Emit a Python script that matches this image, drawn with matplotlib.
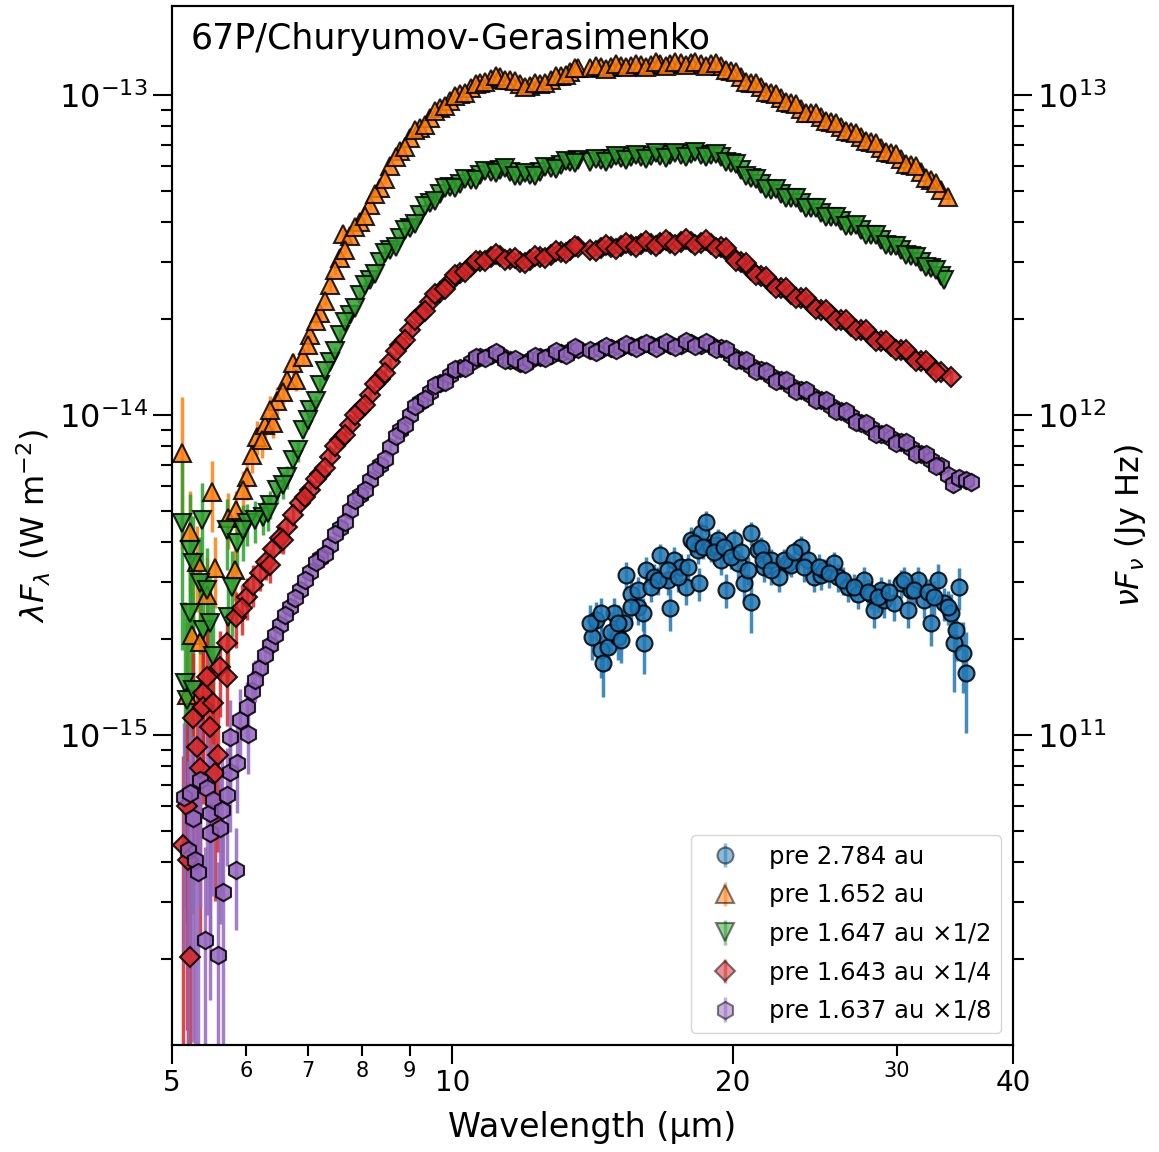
import numpy as np
import matplotlib.pyplot as plt
from matplotlib.lines import Line2D
from matplotlib.collections import LineCollection

# wavelengths in micron, fluxes in 1e-15 W m^-2 (unscaled), errors as fractions
wave_2784 = [14.14, 14.25, 14.43, 14.53, 14.68, 14.90, 15.08, 15.27, 15.35, 15.54,
             15.81, 16.01, 16.05, 16.13, 16.45, 16.73, 17.03, 17.15, 17.28, 17.58,
             17.80, 18.02, 18.34, 18.39, 18.48, 18.71, 18.94, 19.17, 19.27, 19.41,
             19.66, 20.05, 20.25, 20.55, 20.91, 20.91, 21.28, 21.43, 21.60, 21.97,
             22.41, 22.92, 23.09, 23.67, 24.08, 24.44, 24.87, 25.06, 25.68, 25.94,
             26.59, 27.26, 27.66, 28.14, 28.35, 28.85, 29.06, 29.79, 30.31, 30.84,
             31.07, 31.62, 32.09, 32.65, 33.22, 33.72, 34.31, 34.57, 34.74, 35.00,
             35.34, 35.61,
             14.07, 14.43, 14.79, 15.05, 15.16, 15.54, 15.81, 16.33, 16.61, 17.03,
             17.45, 17.89, 18.16, 18.57, 19.08, 19.56, 19.90, 20.40, 20.76, 21.54,
             21.97, 22.69, 23.26, 23.84, 24.74, 25.36, 26.26, 26.98, 27.94, 28.64,
             29.43, 30.54, 31.31, 32.41, 32.90, 34.06]
flux_2784 = [2.02, 2.29, 1.84, 1.68, 1.88, 2.40, 2.02, 2.24, 3.16, 2.76,
             2.51, 2.40, 1.94, 3.28, 3.11, 3.65, 3.05, 2.49, 3.52, 3.35,
             2.90, 4.07, 3.79, 2.98, 4.28, 4.63, 3.87, 3.92, 4.07, 3.52,
             2.84, 4.07, 3.45, 2.98, 2.60, 4.28, 3.79, 3.85, 3.35, 3.52,
             3.11, 3.45, 3.40, 3.87, 3.52, 3.11, 3.16, 3.28, 3.45, 3.11,
             2.90, 2.76, 3.05, 2.76, 2.46, 2.84, 2.64, 2.58, 2.98, 2.46,
             2.84, 3.05, 2.64, 2.24, 3.05, 2.58, 2.40, 1.94, 2.13, 2.90,
             1.80, 1.56,
             2.24, 2.40, 2.10, 2.24, 1.98, 2.51, 2.84, 2.90, 3.05, 3.28,
             3.11, 3.35, 3.98, 3.87, 3.72, 3.87, 3.60, 3.72, 3.28, 3.52,
             3.28, 3.52, 3.72, 3.35, 3.35, 3.21, 3.05, 2.90, 2.79, 2.70,
             2.79, 3.05, 2.84, 2.79, 2.70, 2.51]
err_2784 = [0.15, 0.14, 0.18, 0.22, 0.15, 0.12, 0.15, 0.14, 0.10, 0.12,
            0.12, 0.12, 0.20, 0.10, 0.10, 0.08, 0.10, 0.15, 0.10, 0.10,
            0.12, 0.10, 0.10, 0.12, 0.08, 0.08, 0.10, 0.10, 0.08, 0.10,
            0.12, 0.08, 0.10, 0.12, 0.20, 0.08, 0.08, 0.08, 0.10, 0.08,
            0.10, 0.08, 0.08, 0.08, 0.08, 0.10, 0.10, 0.08, 0.08, 0.10,
            0.10, 0.10, 0.10, 0.10, 0.12, 0.10, 0.12, 0.12, 0.10, 0.12,
            0.10, 0.10, 0.12, 0.15, 0.12, 0.12, 0.15, 0.30, 0.20, 0.15,
            0.25, 0.35,
            0.14, 0.12, 0.15, 0.14, 0.15, 0.12, 0.10, 0.10, 0.10, 0.10,
            0.10, 0.10, 0.08, 0.08, 0.08, 0.08, 0.08, 0.08, 0.10, 0.08,
            0.10, 0.08, 0.08, 0.10, 0.10, 0.10, 0.10, 0.10, 0.10, 0.10,
            0.10, 0.10, 0.10, 0.10, 0.12, 0.12]

wave_1652 = [5.13, 5.19, 5.23, 5.25, 5.32, 5.36, 5.45, 5.52, 5.56, 5.74,
             5.84, 5.86, 6.02, 6.09, 6.17, 6.29, 6.42, 6.48, 6.65, 6.75,
             6.80, 6.92,
             7.04, 7.21, 7.39, 7.58, 7.63, 7.77, 7.96, 8.16, 8.37, 8.58,
             8.79, 9.01, 9.24, 9.47, 9.71, 9.95, 10.20, 10.46, 10.72, 10.99,
             11.26, 11.54, 11.83, 12.13, 12.43, 12.75, 13.07, 13.39, 13.66,
             14.07, 14.43, 14.79, 15.16, 15.54, 15.93, 16.33, 16.73, 17.15, 17.58,
             18.02, 18.48, 18.94, 19.41, 19.90, 20.40, 20.91, 21.43, 21.97, 22.52,
             23.09, 23.67, 24.26, 24.87, 25.49, 26.13, 26.78, 27.45, 28.14, 28.85,
             29.57, 30.31, 31.07, 31.85, 32.65, 33.47, 34.06,
             5.96, 6.25, 6.37, 6.58, 6.99]
flux_1652 = [7.61, 1.33, 4.30, 2.05, 3.47, 1.95, 2.74, 5.74, 3.33, 4.77,
             3.28, 5.05, 6.39, 7.50, 8.54, 9.31, 9.44, 11.1, 12.9, 14.5,
             12.9, 15.2,
             17.8, 20.8, 25.5, 30.9, 36.9, 36.2, 40.1, 45.3, 51.2, 60.0,
             66.8, 73.4, 78.9, 84.7, 91.1, 95.8, 100.7, 105.2, 109.0, 112.2,
             113.8, 111.4, 108.3, 106.7, 108.3, 111.4, 114.7, 118.0, 121.4,
             121.4, 122.3, 122.3, 123.2, 123.2, 124.1, 124.1, 125.0, 125.0, 125.9,
             125.9, 125.0, 125.0, 123.2, 118.9, 113.8, 109.0, 105.9, 101.4, 97.9,
             94.4, 90.4, 87.8, 85.3, 82.3, 79.5, 76.6, 73.9, 71.3, 68.3,
             65.9, 63.1, 60.4, 57.4, 54.2, 50.5, 48.0,
             5.83, 8.35, 10.4, 11.8, 16.5]
err_1652 = [0.50, 0.70, 0.35, 0.50, 0.30, 0.45, 0.30, 0.25, 0.25, 0.20,
            0.20, 0.15, 0.15, 0.12, 0.12, 0.10, 0.10, 0.10, 0.08, 0.08,
            0.08, 0.06,
            0.05, 0.05, 0.04, 0.04, 0.04, 0.04, 0.03, 0.03, 0.03, 0.03,
            0.03, 0.03, 0.03, 0.03, 0.03, 0.03, 0.03, 0.03, 0.03, 0.03,
            0.03, 0.03, 0.03, 0.03, 0.03, 0.03, 0.03, 0.03, 0.04,
            0.04, 0.03, 0.03, 0.03, 0.03, 0.03, 0.03, 0.03, 0.03, 0.03,
            0.03, 0.03, 0.03, 0.03, 0.03, 0.03, 0.03, 0.03, 0.03, 0.03,
            0.03, 0.03, 0.03, 0.03, 0.03, 0.03, 0.03, 0.03, 0.03, 0.03,
            0.03, 0.03, 0.03, 0.03, 0.04, 0.04, 0.05,
            0.15, 0.12, 0.10, 0.08, 0.06]

wave_1647 = [5.13, 5.16, 5.19, 5.23, 5.23, 5.27, 5.27, 5.36, 5.39, 5.40,
             5.45, 5.49, 5.53, 5.73, 5.74, 5.80, 5.87, 6.02, 6.26, 6.37,
             6.48, 6.65, 6.75, 6.92,
             7.04, 7.21, 7.39, 7.58, 7.77, 7.96, 8.16, 8.37, 8.58, 8.79,
             9.01, 9.24, 9.47, 9.71, 9.95, 10.20, 10.46, 10.72, 10.99, 11.26,
             11.54, 11.83, 12.13, 12.43, 12.75, 13.07, 13.39, 13.66,
             14.07, 14.43, 14.79, 15.16, 15.54, 15.93, 16.33, 16.73, 17.15, 17.58,
             18.02, 18.48, 18.94, 19.41, 19.90, 20.40, 20.91, 21.43, 21.97, 22.52,
             23.09, 23.67, 24.26, 24.87, 25.49, 26.13, 26.78, 27.45, 28.14, 28.85,
             29.57, 30.31, 31.07, 31.85, 32.65, 33.47, 33.72,
             5.96, 6.14, 6.34, 6.58, 6.83, 6.99]
flux_1647 = [9.20, 2.90, 2.58, 7.58, 4.82, 6.90, 2.76, 5.96, 9.40, 4.26,
             5.68, 4.48, 3.52, 8.74, 4.68, 5.80, 7.96, 9.20, 9.60, 10.5,
             11.7, 12.8, 14.5, 18.0,
             20.7, 24.8, 29.2, 35.6, 41.0, 47.4, 52.8, 60.2, 65.6, 71.4,
             76.8, 84.4, 92.0, 98.2, 103.2, 105.4, 108.4, 112.4, 115.0, 116.6,
             115.0, 111.6, 112.4, 115.0, 118.2, 120.8, 123.4, 125.2,
             123.4, 125.2, 126.2, 127.2, 128.0, 128.0, 129.0, 129.0, 129.8, 129.8,
             130.8, 129.8, 129.8, 128.0, 122.6, 116.6, 110.0, 105.4, 101.0, 98.2,
             95.4, 92.0, 88.6, 85.6, 83.2, 80.8, 78.0, 75.8, 73.0, 70.4,
             67.6, 65.6, 62.8, 60.2, 57.6, 54.4, 52.8,
             8.74, 9.40, 9.88, 12.1, 15.5, 19.3]
err_1647 = [0.60, 0.80, 0.80, 0.50, 0.60, 0.40, 0.80, 0.40, 0.30, 0.50,
            0.35, 0.40, 0.50, 0.25, 0.35, 0.30, 0.20, 0.15, 0.12, 0.10,
            0.10, 0.08, 0.08, 0.06,
            0.05, 0.05, 0.04, 0.04, 0.04, 0.03, 0.03, 0.03, 0.03, 0.03,
            0.03, 0.03, 0.03, 0.03, 0.03, 0.03, 0.03, 0.03, 0.03, 0.03,
            0.03, 0.03, 0.03, 0.03, 0.03, 0.03, 0.03, 0.04,
            0.04, 0.03, 0.03, 0.03, 0.03, 0.03, 0.03, 0.03, 0.03, 0.03,
            0.03, 0.03, 0.03, 0.03, 0.03, 0.03, 0.03, 0.03, 0.03, 0.03,
            0.03, 0.03, 0.03, 0.03, 0.03, 0.03, 0.03, 0.03, 0.03, 0.03,
            0.03, 0.03, 0.03, 0.03, 0.04, 0.04, 0.05,
            0.20, 0.15, 0.12, 0.10, 0.08, 0.06]

wave_1643 = [5.14, 5.19, 5.20, 5.23, 5.27, 5.32, 5.36, 5.40, 5.40, 5.45,
             5.49, 5.53, 5.56, 5.60, 5.63, 5.73, 5.73, 5.86, 6.02, 6.22,
             6.42, 6.65, 6.86,
             7.04, 7.21, 7.39, 7.58, 7.77, 7.96, 8.16, 8.37, 8.58, 8.79,
             9.01, 9.24, 9.47, 9.71, 9.95, 10.20, 10.46, 10.72, 10.99, 11.26,
             11.54, 11.83, 12.13, 12.43, 12.75, 13.07, 13.39, 13.66,
             14.07, 14.43, 14.79, 15.16, 15.54, 15.93, 16.33, 16.73, 17.15, 17.58,
             18.02, 18.48, 18.94, 19.41, 19.90, 20.40, 20.91, 21.43, 21.97, 22.52,
             23.09, 23.67, 24.26, 24.87, 25.49, 26.13, 26.78, 27.45, 28.14, 28.85,
             29.57, 30.31, 31.07, 31.85, 32.65, 33.47, 34.31,
             5.95, 6.11, 6.31, 6.37, 6.53, 6.58, 6.75, 6.95]
flux_1643 = [1.81, 2.40, 1.63, 0.81, 4.52, 3.67, 3.16, 5.40, 4.88, 6.08,
             4.24, 5.04, 3.04, 3.46, 6.52, 7.76, 6.08, 9.36, 10.8, 12.8,
             15.2, 17.9, 21.2,
             23.3, 26.2, 29.6, 33.4, 37.2, 41.5, 46.2, 52.0, 58.4, 66.0,
             73.6, 82.0, 90.4, 97.2, 104.0, 111.2, 116.8, 121.2, 124.8, 125.6,
             122.8, 120.4, 122.0, 124.8, 126.4, 129.2, 131.2, 134.0,
             131.2, 133.2, 134.0, 135.2, 136.0, 137.2, 137.2, 138.0, 138.0, 139.2,
             139.2, 138.0, 137.2, 134.0, 126.4, 120.4, 113.6, 108.8, 103.6, 99.6,
             95.6, 92.8, 88.8, 85.2, 82.0, 79.2, 76.0, 73.6, 70.8, 68.0,
             65.6, 64.0, 61.2, 58.8, 56.8, 54.4, 52.4,
             10.0, 11.8, 13.9, 13.6, 16.5, 16.3, 19.5, 22.2]
err_1643 = [0.90, 0.80, 0.90, 0.95, 0.60, 0.60, 0.70, 0.50, 0.50, 0.40,
            0.50, 0.40, 0.60, 0.50, 0.30, 0.25, 0.30, 0.20, 0.15, 0.12,
            0.10, 0.08, 0.06,
            0.05, 0.05, 0.04, 0.04, 0.04, 0.03, 0.03, 0.03, 0.03, 0.03,
            0.03, 0.03, 0.03, 0.03, 0.03, 0.03, 0.03, 0.03, 0.03, 0.03,
            0.03, 0.03, 0.03, 0.03, 0.03, 0.03, 0.03, 0.04,
            0.04, 0.03, 0.03, 0.03, 0.03, 0.03, 0.03, 0.03, 0.03, 0.03,
            0.03, 0.03, 0.03, 0.03, 0.03, 0.03, 0.03, 0.03, 0.03, 0.03,
            0.03, 0.03, 0.03, 0.03, 0.03, 0.03, 0.03, 0.03, 0.03, 0.03,
            0.03, 0.03, 0.03, 0.03, 0.04, 0.04, 0.05,
            0.18, 0.15, 0.12, 0.12, 0.10, 0.10, 0.08, 0.06]

wave_1637 = [5.15, 5.20, 5.23, 5.27, 5.29, 5.33, 5.36, 5.43, 5.45, 5.49,
             5.49, 5.53, 5.60, 5.63, 5.66, 5.67, 5.73, 5.77, 5.77, 5.86,
             5.87, 5.92, 6.02, 6.03, 6.09,
             6.22, 6.37, 6.53, 6.70, 6.86,
             7.04, 7.21, 7.39, 7.58, 7.77, 7.96, 8.16, 8.37, 8.58, 8.79,
             9.01, 9.24, 9.47, 9.71, 9.95, 10.20, 10.46, 10.72, 10.99, 11.26,
             11.54, 11.83, 12.13, 12.43, 12.75, 13.07, 13.39, 13.66,
             14.07, 14.43, 14.79, 15.16, 15.54, 15.93, 16.33, 16.73, 17.15, 17.58,
             18.02, 18.48, 18.94, 19.41, 19.90, 20.40, 20.91, 21.43, 21.97, 22.52,
             23.09, 23.67, 24.26, 24.87, 25.49, 26.13, 26.78, 27.45, 28.14, 28.85,
             29.57, 30.31, 31.07, 31.85, 32.65, 33.47, 34.06, 34.48, 35.00, 35.61,
             36.05,
             6.14, 6.29, 6.45, 6.61, 6.78, 6.95]
flux_1637 = [5.12, 3.50, 5.26, 4.40, 3.26, 2.98, 5.78, 1.83, 5.46, 4.56,
             3.95, 5.01, 1.64, 4.10, 4.66, 2.58, 5.19, 7.89, 6.13, 3.03,
             6.54, 8.91, 9.76, 8.08, 11.0,
             13.0, 15.3, 17.7, 20.1, 22.7,
             25.8, 28.6, 31.4, 35.4, 40.4, 45.0, 50.1, 55.8, 63.4, 71.8,
             80.0, 88.0, 94.4, 100.8, 106.4, 112.0, 116.8, 121.6, 123.2, 123.2,
             118.8, 116.0, 118.8, 121.6, 123.2, 124.8, 126.4, 128.8,
             128.0, 128.8, 129.6, 130.4, 131.2, 132.0, 132.0, 132.8, 132.8, 132.8,
             134.4, 132.8, 132.0, 129.6, 123.2, 118.8, 113.6, 110.4, 105.6, 103.2,
             98.4, 95.8, 92.4, 89.1, 85.4, 82.4, 79.4, 75.6, 72.9, 69.8,
             67.8, 65.8, 63.0, 60.4, 57.8, 55.4, 51.9, 48.6, 50.8, 50.1,
             49.4,
             11.9, 14.2, 16.4, 19.0, 21.4, 24.4]
err_1637 = [0.70, 0.90, 0.70, 0.80, 0.90, 0.90, 0.60, 0.95, 0.60, 0.60,
            0.70, 0.50, 0.95, 0.50, 0.45, 0.70, 0.40, 0.30, 0.35, 0.35,
            0.30, 0.25, 0.20, 0.25, 0.15,
            0.12, 0.10, 0.08, 0.07, 0.06,
            0.05, 0.05, 0.04, 0.04, 0.04, 0.03, 0.03, 0.03, 0.03, 0.03,
            0.03, 0.03, 0.03, 0.03, 0.03, 0.03, 0.03, 0.03, 0.03, 0.03,
            0.03, 0.03, 0.03, 0.03, 0.03, 0.03, 0.03, 0.04,
            0.04, 0.03, 0.03, 0.03, 0.03, 0.03, 0.03, 0.03, 0.03, 0.03,
            0.03, 0.03, 0.03, 0.03, 0.03, 0.03, 0.03, 0.03, 0.03, 0.03,
            0.03, 0.03, 0.03, 0.03, 0.03, 0.03, 0.03, 0.03, 0.03, 0.03,
            0.03, 0.03, 0.03, 0.03, 0.04, 0.04, 0.05, 0.06, 0.06, 0.06,
            0.06,
            0.15, 0.12, 0.10, 0.08, 0.07, 0.06]

# extra samples between the points above, shared grid for the four 1.64 au spectra
wave_mid = [7.13, 7.30, 7.48, 7.67, 7.87, 8.06, 8.26, 8.47, 8.69, 8.90,
            9.12, 9.35, 9.59, 9.83, 10.07, 10.33, 10.59, 10.85, 11.13, 11.40,
            11.68, 11.98, 12.28, 12.58, 12.91, 13.23, 13.53,
            14.25, 14.61, 14.97, 15.35, 15.73, 16.13, 16.53, 16.94, 17.36, 17.80,
            18.24, 18.71, 19.17, 19.65, 20.15, 20.65, 21.17, 21.70, 22.24, 22.80,
            23.38, 23.96, 24.56, 25.18, 25.81, 26.45, 27.11, 27.79, 28.49, 29.21,
            29.94, 30.69, 31.46, 32.25, 33.06]
err_mid = [0.03, 0.03, 0.03, 0.03, 0.03, 0.03, 0.03, 0.03, 0.03, 0.03,
           0.03, 0.03, 0.03, 0.03, 0.03, 0.03, 0.03, 0.03, 0.03, 0.03,
           0.03, 0.03, 0.03, 0.03, 0.03, 0.03, 0.03,
           0.03, 0.03, 0.03, 0.03, 0.03, 0.03, 0.03, 0.03, 0.03, 0.03,
           0.03, 0.03, 0.03, 0.03, 0.03, 0.03, 0.03, 0.03, 0.03, 0.03,
           0.03, 0.03, 0.03, 0.03, 0.03, 0.03, 0.03, 0.03, 0.03, 0.03,
           0.03, 0.03, 0.03, 0.03, 0.03]
flux_1652_mid = [19.6, 22.7, 28.3, 32.8, 38.8, 42.0, 49.0, 54.5, 64.0, 69.0,
                 77.5, 80.6, 89.0, 92.5, 99.6, 101.8, 108.6, 109.5, 114.6, 111.0,
                 110.8, 105.8, 109.0, 108.7, 114.8, 115.2, 121.0,
                 123.5, 120.8, 124.6, 121.9, 125.3, 122.6, 126.4, 123.4, 127.2, 124.3,
                 127.0, 123.5, 125.6, 119.5, 117.8, 110.0, 108.9, 102.3, 101.0, 94.8,
                 93.6, 88.0, 87.7, 82.7, 82.0, 77.0, 76.3, 71.6, 70.8, 66.2,
                 65.4, 60.9, 59.8, 55.0, 53.1]
flux_1647_mid = [22.2, 27.5, 31.6, 39.0, 43.3, 51.0, 55.3, 64.0, 67.2, 75.5,
                 79.0, 89.8, 93.3, 102.6, 102.5, 109.0, 108.4, 115.9, 113.8, 117.9,
                 111.3, 114.1, 111.8, 118.7, 117.5, 124.3, 122.4,
                 126.5, 123.6, 129.0, 125.4, 130.3, 126.3, 131.3, 127.2, 132.1, 128.1,
                 132.6, 127.6, 131.2, 123.2, 121.7, 111.4, 109.6, 101.4, 101.4, 95.1,
                 95.3, 88.8, 88.6, 83.0, 83.4, 78.0, 78.2, 73.1, 72.9, 67.8,
                 67.7, 63.1, 62.5, 57.9, 56.9]
flux_1643_mid = [25.2, 27.3, 32.0, 34.6, 40.1, 43.0, 50.0, 54.1, 63.3, 68.5,
                 79.2, 84.6, 95.6, 98.8, 109.6, 112.0, 121.3, 120.9, 127.7, 122.0,
                 124.0, 119.1, 125.8, 123.4, 130.3, 128.0, 135.2,
                 129.9, 136.2, 132.3, 138.3, 134.2, 139.9, 135.2, 140.8, 136.2, 142.0,
                 136.2, 140.4, 133.2, 132.7, 121.2, 119.2, 109.3, 108.3, 99.8, 99.5,
                 92.5, 92.6, 85.5, 85.3, 79.2, 79.1, 73.5, 73.6, 68.2, 68.1,
                 63.7, 63.8, 58.9, 58.9, 54.6]
flux_1637_mid = [27.7, 29.4, 34.0, 37.1, 43.5, 46.6, 53.9, 58.4, 68.8, 74.4,
                 85.5, 89.5, 99.4, 101.7, 111.3, 112.3, 121.5, 120.2, 125.6, 118.8,
                 119.7, 115.3, 122.6, 120.2, 126.4, 123.3, 130.1,
                 126.1, 131.7, 127.7, 133.4, 129.2, 134.6, 130.0, 135.4, 130.4, 136.3,
                 131.2, 135.0, 128.4, 128.9, 118.8, 118.5, 110.0, 110.1, 102.5, 102.8,
                 95.3, 96.0, 89.1, 88.9, 82.4, 82.5, 76.1, 75.7, 70.0, 70.2,
                 65.6, 65.7, 60.6, 60.3, 55.6]

labels = ['pre 2.784 au', 'pre 1.652 au', 'pre 1.647 au \u00d71/2',
          'pre 1.643 au \u00d71/4', 'pre 1.637 au \u00d71/8']
scales = [1.0, 1.0, 0.5, 0.25, 0.125]

series = [
    (wave_2784, flux_2784, err_2784, 'o', 'tab:blue', 11.5),
    (wave_1652 + wave_mid, flux_1652 + flux_1652_mid, err_1652 + err_mid, '^', 'tab:orange', 13),
    (wave_1647 + wave_mid, flux_1647 + flux_1647_mid, err_1647 + err_mid, 'v', 'tab:green', 13),
    (wave_1643 + wave_mid, flux_1643 + flux_1643_mid, err_1643 + err_mid, 'D', 'tab:red', 10.5),
    (wave_1637 + wave_mid, flux_1637 + flux_1637_mid, err_1637 + err_mid, 'h', 'tab:purple', 12.5),
]

fig = plt.figure(figsize=(11.59, 11.52), dpi=100)
ax = fig.add_axes([172 / 1159, 1 - 1045 / 1152, 841 / 1159, 1039 / 1152])
ax.set_xscale('log')
ax.set_yscale('log')

for (w, f, e, m, c, ms), lab, k in zip(series, labels, scales):
    y = np.array(f) * 1e-15 * k
    ax.errorbar(w, y, yerr=y * np.array(e), fmt=m, color=c, ms=ms, mec='k', mew=1.5,
                elinewidth=2.5, capsize=0, alpha=0.85, label=lab)

ylo, yhi = 1.075e-16, 1.897e-13
ax.set_xlim(5, 40)
ax.set_ylim(ylo, yhi)
ax.set_yticks([1e-15, 1e-14, 1e-13])

ax.set_xticks([5, 10, 20, 40])
ax.set_xticklabels(['5', '10', '20', '40'])
ax.set_xticks([6, 7, 8, 9, 30], minor=True)
ax.set_xticklabels(['6', '7', '8', '9', '30'], minor=True)
ax.tick_params(axis='x', which='major', labelsize=20, length=14, width=1.5)
ax.tick_params(axis='x', which='minor', labelsize=15, length=8, width=1.5)
ax.tick_params(axis='y', which='major', labelsize=23, length=14, width=1.5)
ax.tick_params(axis='y', which='minor', length=8, width=1.5)
for s in ax.spines.values():
    s.set_linewidth(1.5)

ax.set_xlabel('Wavelength (\u00b5m)', fontsize=24, labelpad=10)
ax.set_ylabel(r'$\lambda F_\lambda$ (W m$^{-2}$)', fontsize=23)
ax.text(0.022, 0.985, '67P/Churyumov-Gerasimenko', transform=ax.transAxes,
        fontsize=25, ha='left', va='top')

leg = ax.legend(loc='lower right', fontsize=17.5, labelspacing=0.6)
for a in leg.findobj(lambda o: isinstance(o, (Line2D, LineCollection))):
    a.set_alpha(0.5)

# nu F_nu in Jy Hz (1 Jy = 1e-26 W m^-2 Hz^-1)
ax2 = ax.twinx()
ax2.set_yscale('log')
ax2.set_ylim(ylo * 1e26, yhi * 1e26)
ax2.set_yticks([1e11, 1e12, 1e13])
ax2.tick_params(axis='y', which='major', labelsize=23, length=14, width=1.5)
ax2.tick_params(axis='y', which='minor', length=8, width=1.5)
for s in ax2.spines.values():
    s.set_linewidth(1.5)
ax2.set_ylabel(r'$\nu F_\nu$ (Jy Hz)', fontsize=23)

fig.savefig('out.png', dpi=100)
